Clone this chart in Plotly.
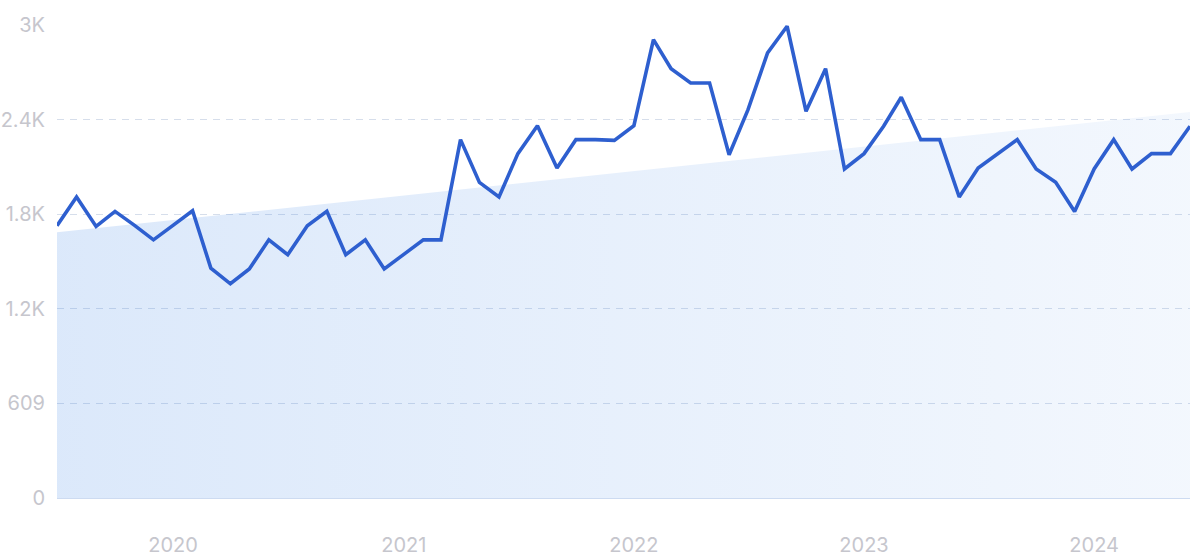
import plotly.graph_objects as go
import pandas as pd

# Monthly data, Jul 2019 - Jun 2024
dates = pd.date_range("2019-07-01", periods=60, freq="MS")
values = [
    1753, 1938, 1748, 1845, 1755, 1662, 1755, 1849, 1480, 1379,
    1474, 1662, 1566, 1753, 1845, 1566, 1662, 1474, 1568, 1662,
    1662, 2307, 2032, 1938, 2217, 2397, 2124, 2307, 2307, 2302,
    2397, 2951, 2764, 2672, 2672, 2210, 2500, 2866, 3037, 2489,
    2764, 2118, 2217, 2393, 2580, 2307, 2307, 1938, 2124, 2217,
    2307, 2118, 2032, 1845, 2118, 2307, 2118, 2217, 2217, 2393,
]
trend_values = [1710, 2485]
trend_dates = [dates[0], dates[-1]]

y_tickvals = [0, 609, 1218, 1827, 2436, 3045]
y_ticktext = ["0", "609", "1.2K", "1.8K", "2.4K", "3K"]
x_tickvals = ["2020-01-01", "2021-01-01", "2022-01-01", "2023-01-01", "2024-01-01"]
x_ticktext = ["2020", "2021", "2022", "2023", "2024"]

fig = go.Figure()
fig.add_trace(go.Scatter(
    x=trend_dates, y=trend_values, mode="lines",
    line=dict(width=0),
    fill="tozeroy",
    fillgradient=dict(type="horizontal",
                      colorscale=[[0, "rgba(57,130,230,0.18)"], [1, "rgba(57,130,230,0.06)"]]),
    hoverinfo="skip", showlegend=False,
))
fig.add_trace(go.Scatter(
    x=dates, y=values, mode="lines",
    line=dict(color="#2e5fcf", width=3.6),
    showlegend=False,
))

fig.update_layout(
    width=1200, height=560,
    margin=dict(l=57, r=10, t=25, b=62),
    paper_bgcolor="white", plot_bgcolor="white",
    font=dict(family="Inter, Noto Sans, sans-serif", size=20, color="#c6c6cd"),
)
fig.update_xaxes(
    range=[dates[0], dates[-1]],
    tickvals=x_tickvals, ticktext=x_ticktext,
    showgrid=False, zeroline=False, automargin=False,
    showline=True, linecolor="#cddbf1", linewidth=1,
    ticks="outside", ticklen=29, tickcolor="rgba(0,0,0,0)",
)
fig.update_yaxes(
    range=[0, 3045],
    tickvals=y_tickvals, ticktext=y_ticktext,
    showgrid=True, gridcolor="#d6deeb", griddash="7px,6px", gridwidth=1,
    zeroline=False, showline=False, automargin=False,
    ticks="outside", ticklen=7, tickcolor="rgba(0,0,0,0)",
)

fig.write_html("out.html",
               config={"displayModeBar": False},
               post_script="document.body.style.margin='0';document.body.style.overflow='hidden';")
